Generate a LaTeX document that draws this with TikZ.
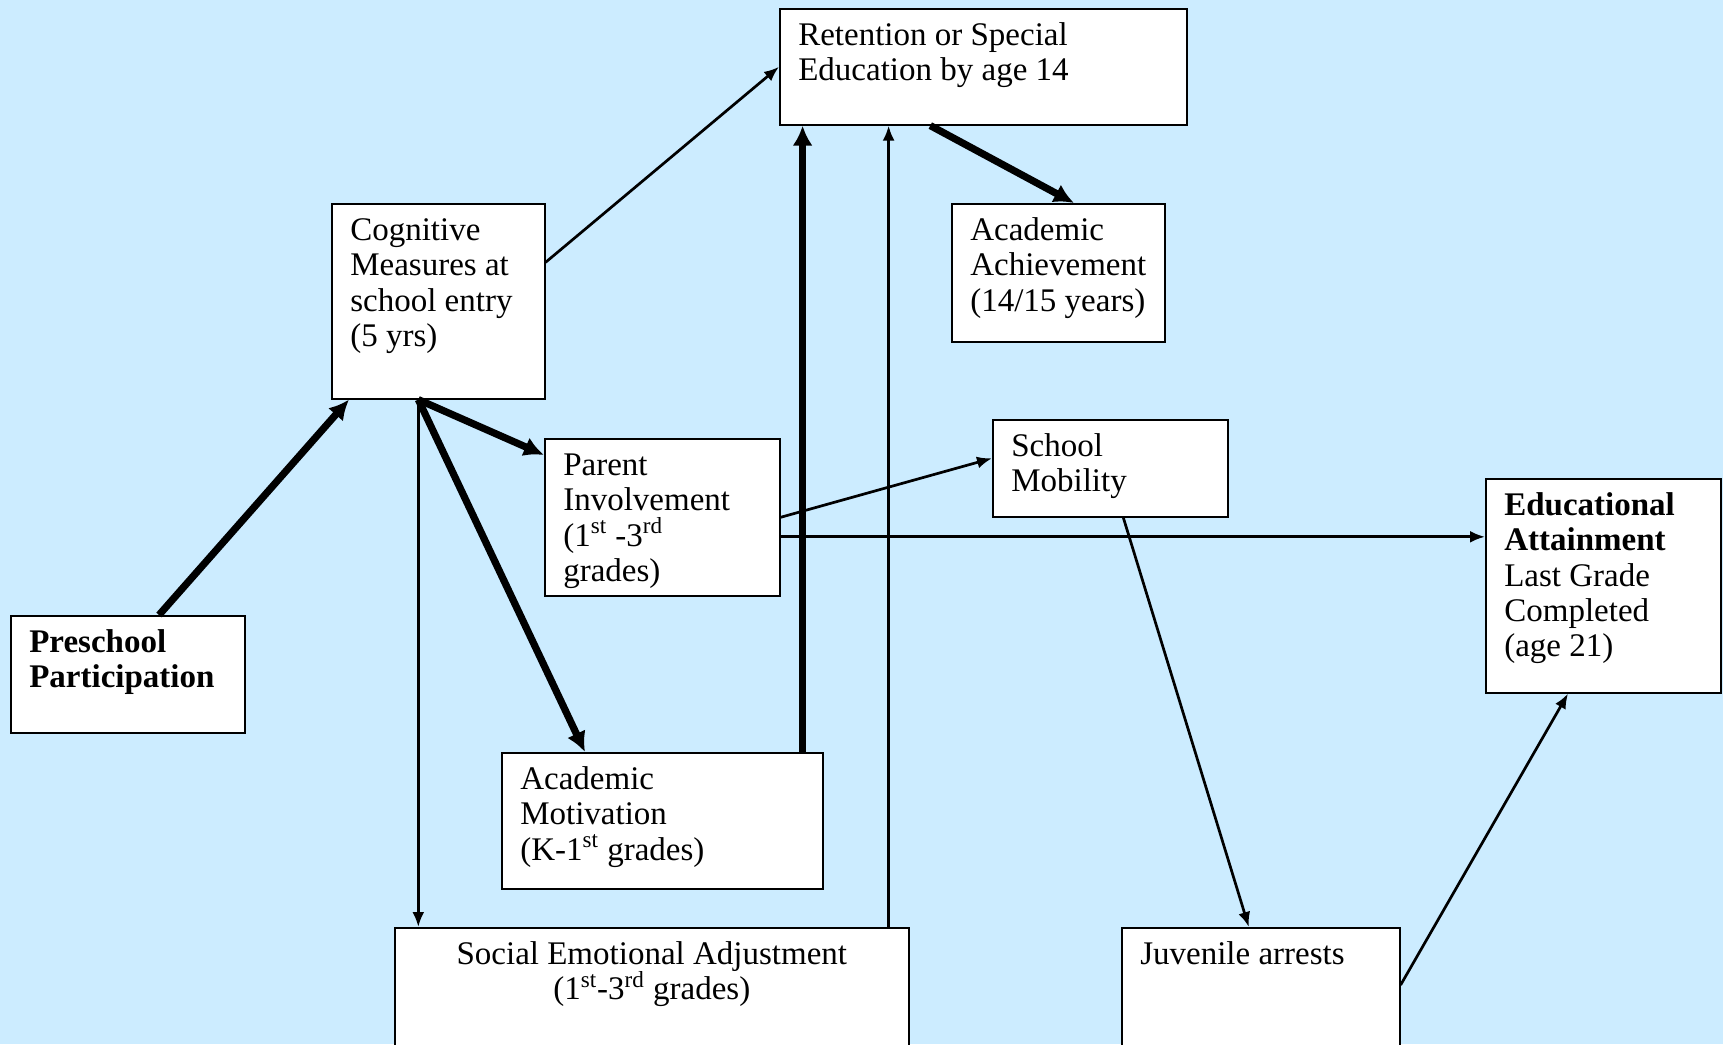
\documentclass[tikz,border=0pt]{standalone}
\usepackage{fontspec}
\setmainfont{Liberation Serif}
\usetikzlibrary{arrows.meta}
\definecolor{skyback}{RGB}{204,236,255}
\newcommand{\lbox}[3]{\parbox[c][#2][t]{#1}{\raggedright\leftskip=9.25pt\lineskiplimit=-20pt\vspace*{6pt}\strut#3}}
\newcommand{\cbox}[3]{\parbox[c][#2][t]{#1}{\centering\lineskiplimit=-20pt\vspace*{6pt}\strut#3}}
\begin{document}
\begin{tikzpicture}[x=0.5pt,y=-0.5pt,
    box/.style={draw,fill=white,line width=0.8pt,inner sep=0pt,anchor=north west,
      font=\fontsize{16.5}{17.65}\selectfont},
    lnk/.style={line width=1.35pt,-{Latex[length=7.5pt,width=6pt]}},
    lnkbold/.style={line width=3.6pt,-{Latex[length=10pt,width=10pt]}}]
  \clip (0,0) rectangle (1723,1044);
  \fill[skyback] (0,0) rectangle (1723,1044);

  \node[box] (ret) at (779,8) {\lbox{203.5pt}{58pt}{Retention or Special\\Education by age 14}};
  \node[box] (cog) at (331,203) {\lbox{106.5pt}{97.5pt}{Cognitive\\Measures at\\school entry\\(5 yrs)}};
  \node[box] (ach) at (951,203) {\lbox{106.5pt}{69pt}{Academic\\Achievement\\(14/15 years)}};
  \node[box] (par) at (544,438) {\lbox{117.5pt}{78.5pt}{Parent\\Involvement\\(1\textsuperscript{st} -3\textsuperscript{rd}\\grades)}};
  \node[box] (mob) at (992,419) {\lbox{117.5pt}{48.5pt}{School\\Mobility}};
  \node[box] (att) at (1485,478) {\lbox{117.5pt}{107pt}{\textbf{Educational}\\\textbf{Attainment}\\Last Grade\\Completed\\(age 21)}};
  \node[box] (pre) at (10,615) {\lbox{117pt}{58.5pt}{\textbf{Preschool}\\\textbf{Participation}}};
  \node[box] (mot) at (501,752) {\lbox{160.5pt}{68pt}{Academic\\Motivation\\(K-1\textsuperscript{st} grades)}};
  \node[box] (soc) at (394,927) {\cbox{257pt}{66.5pt}{Social Emotional Adjustment\\(1\textsuperscript{st}-3\textsuperscript{rd} grades)}};
  \node[box] (juv) at (1121,927) {\lbox{139pt}{66.5pt}{Juvenile arrests}};

  \coordinate (cogout) at ([xshift=-10pt]cog.south);
  \coordinate (motup) at ([xshift=-10.5pt]mot.north east);
  \coordinate (socup) at ([xshift=-10.5pt]soc.north east);
  \coordinate (parout) at ([yshift=-9.75pt]par.east);

  \draw[lnkbold] ([xshift=74.5pt]pre.north west) -- ([xshift=9pt]cog.south west);
  \draw[lnk] ([yshift=19.5pt]cog.east) -- (ret.west);
  \draw[lnkbold] (cogout) -- ([yshift=-8.5pt]par.north west);
  \draw[lnkbold] (cogout) -- ([xshift=42pt]mot.north west);
  \draw[lnk] (cogout) -- (cogout |- soc.north);
  \draw[lnkbold] (motup) -- (motup |- ret.south);
  \draw[lnk] (socup) -- (socup |- ret.south);
  \draw[lnkbold] ([xshift=-26.5pt]ret.south) -- ([xshift=61.5pt]ach.north west);
  \draw[lnk] (par.east) -- ([yshift=5pt]mob.west);
  \draw[lnk] (parout) -- (parout -| att.west);
  \draw[lnk] ([xshift=6.5pt]mob.south) -- ([xshift=-6pt]juv.north);
  \draw[lnk] ([yshift=-29pt]juv.north east) -- ([xshift=41.5pt]att.south west);
\end{tikzpicture}
\end{document}
